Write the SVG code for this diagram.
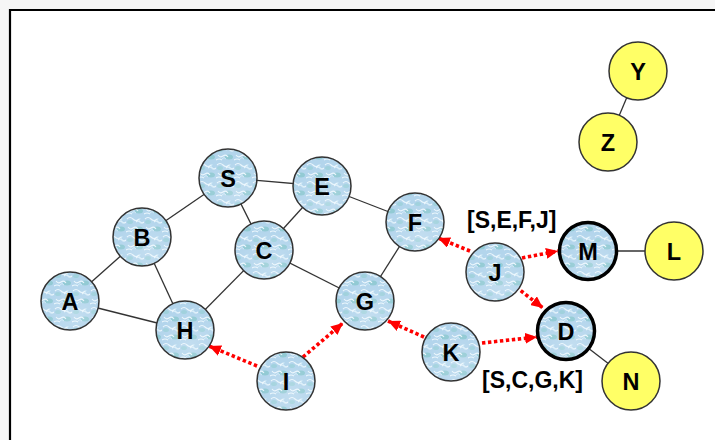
<svg xmlns="http://www.w3.org/2000/svg" width="715" height="440" viewBox="0 0 715 440">
  <style>
    .edge { stroke: #333; stroke-width: 1.3; fill: none; }
    .route { stroke: #ff0000; stroke-width: 3.6; stroke-dasharray: 3.4 2.6; fill: none; marker-end: url(#arrow); }
    .blue { fill: url(#bubbles); stroke: #333; stroke-width: 1.5; }
    .blue.bold { stroke: #000; stroke-width: 3.5; }
    .yellow { fill: #ffff66; stroke: #333; stroke-width: 1.5; }
    .lbl { font-family: "Liberation Sans", Arial, sans-serif; font-weight: bold; font-size: 23.5px; text-anchor: middle; fill: #000; }
    .path-lbl { font-family: "Liberation Sans", Arial, sans-serif; font-weight: bold; font-size: 23px; fill: #000; }
  </style>
  <defs>
    <!-- watery texture for the ordinary nodes -->
    <pattern id="bubbles" patternUnits="userSpaceOnUse" width="18" height="18">
      <rect width="18" height="18" fill="#b3d5ec"/>
      <ellipse cx="13" cy="13" rx="4" ry="2.5" fill="#86c6cc" opacity="0.75"/>
      <ellipse cx="4" cy="6" rx="3" ry="2" fill="#97cfd6" opacity="0.65"/>
      <path d="M1,3 q3,-3 6,0 t6,0 M2,11 q2,3 5,1 q3,-2 5,1 M10,6 q2,-2 4,0 q2,2 4,0 M0,16 q3,-2 6,0" stroke="#eaf6fd" stroke-width="1.1" fill="none"/>
      <path d="M6,15 q2,-3 4,0 M14,2 q-2,3 1,5" stroke="#d4ecf8" stroke-width="0.9" fill="none"/>
    </pattern>
    <radialGradient id="sheen" cx="0.6" cy="0.75" r="0.6">
      <stop offset="0" stop-color="#ffffff" stop-opacity="0.2"/>
      <stop offset="1" stop-color="#ffffff" stop-opacity="0"/>
    </radialGradient>
    <marker id="arrow" markerUnits="userSpaceOnUse" markerWidth="13" markerHeight="11" refX="12" refY="5.5" orient="auto">
      <path d="M0,0 L12,5.5 L0,11 z" fill="#ff0000"/>
    </marker>
  </defs>

  <!-- page and frame -->
  <rect width="715" height="440" fill="#f6f6f6"/>
  <rect x="10" y="10" width="705" height="430" fill="#ffffff"/>
  <path d="M10,440 L10,10 L715,10" stroke="#000" stroke-width="2.2" fill="none"/>

  <g id="connectors">
    <line class="edge" x1="70" y1="301" x2="142" y2="237"/>
    <line class="edge" x1="70" y1="301" x2="185" y2="330"/>
    <line class="edge" x1="142" y1="237" x2="228" y2="178"/>
    <line class="edge" x1="142" y1="237" x2="185" y2="330"/>
    <line class="edge" x1="228" y1="178" x2="322" y2="186"/>
    <line class="edge" x1="228" y1="178" x2="264" y2="250"/>
    <line class="edge" x1="264" y1="250" x2="322" y2="186"/>
    <line class="edge" x1="264" y1="250" x2="185" y2="330"/>
    <line class="edge" x1="264" y1="250" x2="365" y2="301"/>
    <line class="edge" x1="322" y1="186" x2="415" y2="222"/>
    <line class="edge" x1="415" y1="222" x2="365" y2="301"/>
    <line class="edge" x1="588" y1="251" x2="674" y2="251"/>
    <line class="edge" x1="566" y1="331" x2="631" y2="381"/>
    <line class="edge" x1="638" y1="71" x2="608" y2="142"/>

    <!-- route request / reply arrows -->
    <line class="route" x1="257" y1="366" x2="209" y2="346"/>
    <line class="route" x1="303" y1="357" x2="343" y2="323"/>
    <line class="route" x1="424" y1="337" x2="388" y2="321"/>
    <line class="route" x1="482" y1="343" x2="537" y2="337"/>
    <line class="route" x1="470" y1="251" x2="438" y2="238"/>
    <line class="route" x1="522" y1="258" x2="558" y2="251"/>
    <line class="route" x1="516" y1="287" x2="543" y2="308"/>
  </g>

  <g id="node-A"><circle class="blue" cx="70" cy="301" r="29"/><circle cx="70" cy="301" r="28" fill="url(#sheen)"/><text class="lbl" x="70" y="309.5">A</text></g>
  <g id="node-B"><circle class="blue" cx="142" cy="237" r="29"/><circle cx="142" cy="237" r="28" fill="url(#sheen)"/><text class="lbl" x="142" y="245.5">B</text></g>
  <g id="node-S"><circle class="blue" cx="228" cy="178" r="29"/><circle cx="228" cy="178" r="28" fill="url(#sheen)"/><text class="lbl" x="228" y="186.5">S</text></g>
  <g id="node-H"><circle class="blue" cx="185" cy="330" r="29"/><circle cx="185" cy="330" r="28" fill="url(#sheen)"/><text class="lbl" x="185" y="338.5">H</text></g>
  <g id="node-C"><circle class="blue" cx="264" cy="250" r="29"/><circle cx="264" cy="250" r="28" fill="url(#sheen)"/><text class="lbl" x="264" y="258.5">C</text></g>
  <g id="node-E"><circle class="blue" cx="322" cy="186" r="29"/><circle cx="322" cy="186" r="28" fill="url(#sheen)"/><text class="lbl" x="322" y="194.5">E</text></g>
  <g id="node-F"><circle class="blue" cx="415" cy="222" r="29"/><circle cx="415" cy="222" r="28" fill="url(#sheen)"/><text class="lbl" x="415" y="230.5">F</text></g>
  <g id="node-G"><circle class="blue" cx="365" cy="301" r="29"/><circle cx="365" cy="301" r="28" fill="url(#sheen)"/><text class="lbl" x="365" y="309.5">G</text></g>
  <g id="node-I"><circle class="blue" cx="286" cy="381" r="29"/><circle cx="286" cy="381" r="28" fill="url(#sheen)"/><text class="lbl" x="286" y="389.5">I</text></g>
  <g id="node-K"><circle class="blue" cx="451" cy="352" r="29"/><circle cx="451" cy="352" r="28" fill="url(#sheen)"/><text class="lbl" x="451" y="360.5">K</text></g>
  <g id="node-J"><circle class="blue" cx="495" cy="272" r="29"/><circle cx="495" cy="272" r="28" fill="url(#sheen)"/><text class="lbl" x="495" y="280.5">J</text></g>
  <g id="node-M"><circle class="blue bold" cx="588" cy="251" r="28.5"/><circle cx="588" cy="251" r="27" fill="url(#sheen)"/><text class="lbl" x="588" y="259.5">M</text></g>
  <g id="node-D"><circle class="blue bold" cx="566" cy="331" r="28.5"/><circle cx="566" cy="331" r="27" fill="url(#sheen)"/><text class="lbl" x="566" y="339.5">D</text></g>
  <g id="node-L"><circle class="yellow" cx="674" cy="251" r="29"/><text class="lbl" x="674" y="259.5">L</text></g>
  <g id="node-N"><circle class="yellow" cx="631" cy="381" r="29"/><text class="lbl" x="631" y="389.5">N</text></g>
  <g id="node-Y"><circle class="yellow" cx="638" cy="71" r="29"/><text class="lbl" x="638" y="79.5">Y</text></g>
  <g id="node-Z"><circle class="yellow" cx="608" cy="142" r="29"/><text class="lbl" x="608" y="150.5">Z</text></g>

  <g id="route-labels">
    <text class="path-lbl" x="467" y="228">[S,E,F,J]</text>
    <text class="path-lbl" x="482" y="388">[S,C,G,K]</text>
  </g>
</svg>
